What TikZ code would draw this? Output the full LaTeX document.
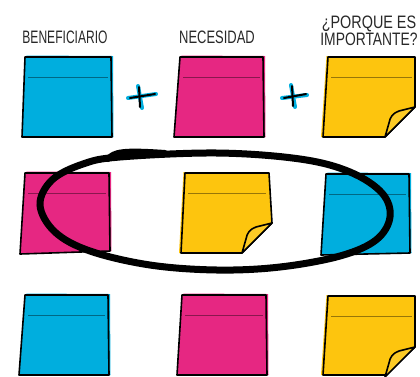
\documentclass[tikz,border=0pt]{standalone}
\usepackage{fontspec}
\usepackage{graphicx}
\setmainfont{Liberation Sans}
\definecolor{nblue}{RGB}{0,174,222}
\definecolor{npink}{RGB}{230,39,130}
\definecolor{nyel}{RGB}{253,197,14}
\definecolor{ink}{RGB}{40,40,40}
\tikzset{
  outline/.style={draw=black,line width=1.6pt,line join=round,line cap=round},
  lbl/.style={font=\fontsize{18}{17}\selectfont, text=ink, inner sep=0pt, align=center},
  ring/.style={line width=7pt,draw=black,line cap=round},
  plusblue/.style={draw=nblue,line width=4pt,line cap=round},
  plusblack/.style={draw=black,line width=2pt,line cap=round},
}
% #1 colour, #2 TL, #3 TR, #4 BR, #5 BL (as x,y)
\newcommand\plainnote[5]{%
  \fill[#1] ([shift={(1.5,-1.5)}]#2) -- ([shift={(2,-1)}]#3) -- ([shift={(1.5,0)}]#4) -- (#5) -- cycle;
  \fill[#1] (#2) -- (#3) -- (#4) -- (#5) -- cycle;
  \draw[#1!60!black,line width=0.5pt] ([shift={(3,20)}]#2) -- ([shift={(-3,20)}]#3);
  \draw[outline] (#2) -- (#3) -- (#4) -- (#5) -- cycle;
}
% #1 colour, #2 TL, #3 TR, #4 right corner, #5 bottom corner, #6 BL
\newcommand\foldnote[6]{%
  \fill[#1] ([shift={(-1.5,-1)}]#2) -- (#3) -- (#4) -- (#5) -- ([shift={(-2,0)}]#6) -- cycle;
  \fill[#1] (#2) -- (#3) -- (#4) -- (#5) -- (#6) -- cycle;
  \draw[#1!60!black,line width=0.5pt] ([shift={(3,20)}]#2) -- ([shift={(-3,20)}]#3);
  \draw[outline] (#2) -- (#3) -- (#4) -- (#5) -- (#6) -- cycle;
  \begin{scope}[shift={(#4)}]
    \filldraw[fill=#1!90!white,outline] (0,0) -- (-16,4) .. controls (-22,6) and (-25,10) .. (-26,16) -- (-30,30) -- cycle;
  \end{scope}
}
\begin{document}
\begin{tikzpicture}[x=1pt,y=-1pt]
\useasboundingbox (0,0) rectangle (420,376);
\fill[white] (0,0) rectangle (420,376);

% labels
\node[lbl] (l1) at (65,37) {\scalebox{0.67}[1]{BENEFICIARIO}};
\node[lbl] (l2) at (217,37) {\scalebox{0.72}[1]{NECESIDAD}};
\node[lbl] (l3) at (369,31) {\scalebox{0.8}[1]{¿PORQUE ES}\\\scalebox{0.77}[1]{IMPORTANTE?}};

% row 1
\plainnote{nblue}{25,57}{111,57}{112,137}{22,137}
\plainnote{npink}{180,57}{263,57}{264,137}{174,137}
\foldnote{nyel}{328,57}{415,57}{415,107}{385,137}{323,137}

% plus signs
\draw[plusblue] (128,98) -- (156,94);
\draw[plusblue] (138,86) -- (142,108);
\draw[plusblack] (130,98) -- (155,94);
\draw[plusblack] (139,87) -- (140,107);
\draw[plusblue] (282,98) -- (307,95);
\draw[plusblue] (291,85) -- (295,107);
\draw[plusblack] (284,98) -- (306,94);
\draw[plusblack] (292,86) -- (293,106);

% row 2
\plainnote{npink}{25,173}{109,173}{110,251}{20,254}
\foldnote{nyel}{185,173}{269,173}{272,223}{242,253}{181,253}
\plainnote{nblue}{326,174}{409,174}{410,253}{321,255}

% ring
\draw[ring] plot[smooth cycle, tension=0.6] coordinates {
  (40,205) (52,180) (83,164) (120,157) (217,153) (300,159) (350,172)
  (382,193) (390,217) (376,240) (340,256) (280,267) (217,270) (150,265)
  (90,251) (55,232)};
\draw[ring,line width=6pt] (108,159) .. controls (114,152) and (122,150) .. (165,153);

% row 3
\plainnote{nblue}{25,295}{108,295}{109,375}{19,375}
\plainnote{npink}{182,295}{266,295}{267,375}{177,375}
\foldnote{nyel}{328,296}{415,296}{415,347}{385,375}{323,375}
\end{tikzpicture}
\end{document}
